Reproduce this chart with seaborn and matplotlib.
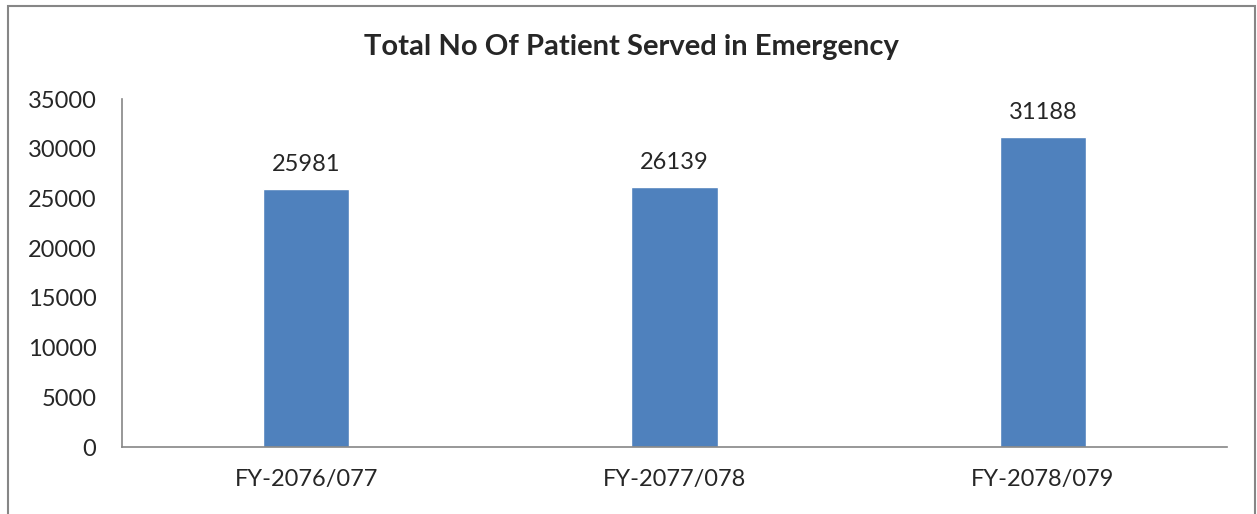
import matplotlib
matplotlib.use("Agg")
import matplotlib.pyplot as plt
import seaborn as sns
from matplotlib.patches import Rectangle

categories = ["FY-2076/077", "FY-2077/078", "FY-2078/079"]
values = [25981, 26139, 31188]
yticks = [0, 5000, 10000, 15000, 20000, 25000, 30000, 35000]

sns.set_style("white")
plt.rcParams['font.family'] = ['Lato', 'DejaVu Sans']

fig = plt.figure(figsize=(12.57, 5.14), dpi=100)
ax = fig.add_axes([122/1257, 67/514, (1227-122)/1257, (447-99)/514])

sns.barplot(x=categories, y=values, order=categories, color="#4F81BD",
            saturation=1, width=0.234, ax=ax)

ax.set_xlim(-0.5, 2.5)
ax.set_ylim(0, 35000)
ax.set_yticks(yticks)
ax.set_yticklabels([str(t) for t in yticks], fontsize=17)
ax.set_xticks(range(len(categories)))
ax.set_xticklabels(categories, fontsize=17)
ax.set_xticks([-0.5, 0.5, 1.5, 2.5], minor=True)
ax.tick_params(axis='x', which='major', length=0, pad=16)
ax.tick_params(axis='x', which='minor', length=6, color="#868686", width=1.2, direction='out')
ax.tick_params(axis='y', length=6.5, color="#868686", width=1.2, direction='out', pad=12)
for s in ["top", "right"]:
    ax.spines[s].set_visible(False)
for s in ["left", "bottom"]:
    ax.spines[s].set_color("#868686")
    ax.spines[s].set_linewidth(1.2)
ax.set_xlabel("")
ax.set_ylabel("")

for i, v in enumerate(values):
    ax.text(i, v + 1400, str(v), ha="center", va="bottom", fontsize=17)

fig.text((365+898)/2/1257, 1 - 47/514, "Total No Of Patient Served in Emergency",
         ha="center", va="center", fontsize=21, fontweight="bold")

fig.patches.append(Rectangle((8/1257, -0.05), (1255-8)/1257, 1.05 - 6/514,
                             transform=fig.transFigure, fill=False,
                             edgecolor="#868686", linewidth=1.5))

fig.savefig("out.png", dpi=100)
